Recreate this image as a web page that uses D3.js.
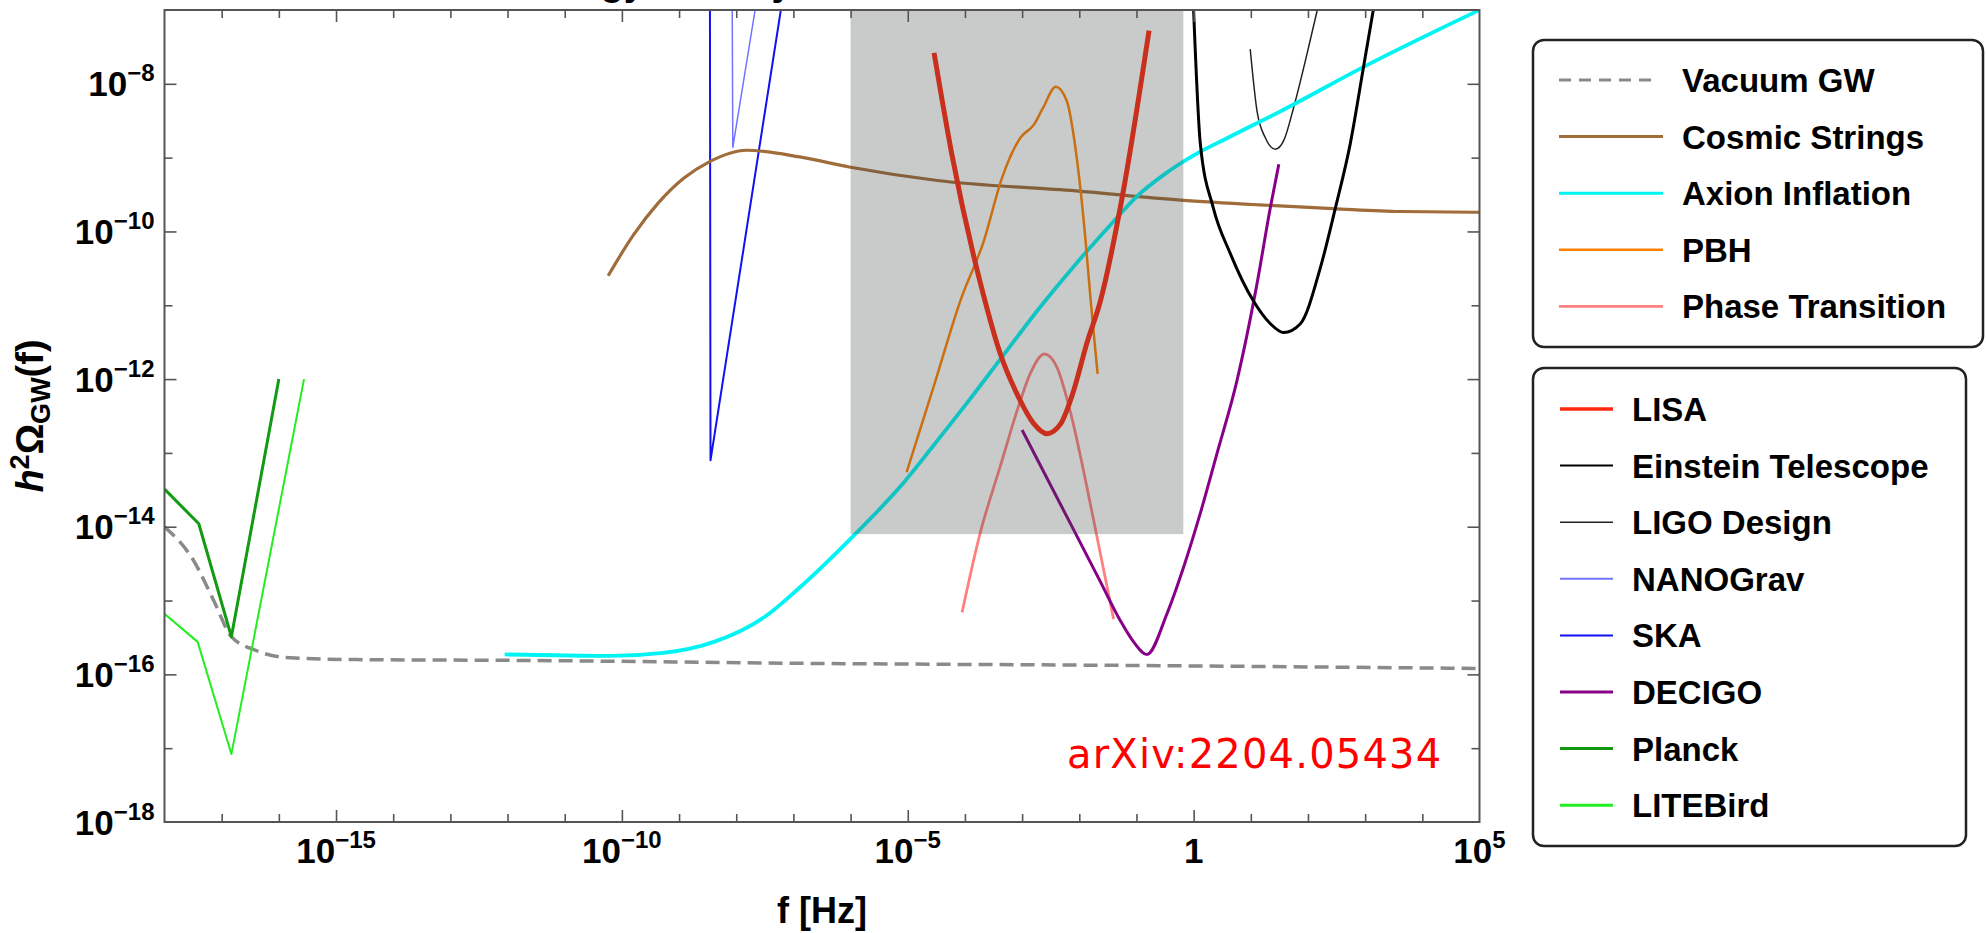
<!DOCTYPE html>
<html>
<head>
<meta charset="utf-8">
<script src="https://cdn.jsdelivr.net/npm/d3@7"></script>
<style>
  body { margin: 0; background: #fff; }
  svg { display: block; }
  text { font-family: "Liberation Sans", Arial, sans-serif; }
</style>
</head>
<body>
<script>
'use strict';

// every curve is a list of [log10 f/Hz, log10 h^2 Omega_GW]
const vacuumGW = [[-18, -14.0], [-17.49, -14.46], [-17.14, -15.0], [-16.83, -15.49], [-16.42, -15.67],
  [-15.89, -15.77], [-14.64, -15.8], [-11.96, -15.81], [-6.89, -15.85], [-1, -15.88], [5, -15.92]];
const cosmicStrings = [[-10.24, -10.6], [-9.8, -10.05], [-9.37, -9.62], [-8.92, -9.28], [-8.48, -9.06],
  [-7.82, -8.9], [-6.89, -8.99], [-6.0, -9.13], [-4.48, -9.31], [-2.06, -9.45], [-0.23, -9.575],
  [1.15, -9.64], [2.44, -9.69], [3.62, -9.73], [5.0, -9.74]];
const axionInflation = [[-12.05, -15.73], [-10.18, -15.75], [-9.28, -15.71], [-8.39, -15.56], [-7.5, -15.22],
  [-6.885, -14.82], [-5.92, -14.1], [-5.135, -13.46], [-4.55, -12.9], [-3.97, -12.33], [-3.38, -11.73],
  [-2.68, -11.02], [-2.06, -10.44], [-1.5, -9.95], [-1.0, -9.53], [-0.5, -9.22], [0.0, -8.97], [0.6, -8.73],
  [1.5, -8.38], [3.0, -7.76], [5.0, -7.0]];
const pbh = [[-5.02, -13.26], [-4.55, -12.11], [-4.08, -10.94], [-3.67, -10.13], [-3.35, -9.27],
  [-3.03, -8.73], [-2.79, -8.55], [-2.63, -8.32], [-2.41, -8.04], [-2.22, -8.23], [-2.06, -8.91],
  [-1.9, -10.04], [-1.8, -10.94], [-1.68, -11.93]];
const phaseTransition = [[-4.05, -15.16], [-3.735, -14.09], [-3.385, -13.19], [-3.03, -12.29], [-2.86, -11.93],
  [-2.61, -11.66], [-2.39, -11.84], [-2.16, -12.43], [-1.867, -13.46], [-1.63, -14.37], [-1.4, -15.25]];

const lisa = [[-4.54, -7.58], [-4.23, -8.95], [-3.68, -10.85], [-3.385, -11.65], [-3.09, -12.2],
  [-2.8, -12.6], [-2.567, -12.74], [-2.33, -12.61], [-2.1, -12.16], [-1.87, -11.52], [-1.63, -10.94],
  [-1.26, -9.58], [-0.78, -7.28]];
const einsteinTelescope = [[0.0, -7.01], [0.117, -8.81], [0.344, -9.68], [0.642, -10.3], [1.044, -10.94],
  [1.342, -11.25], [1.575, -11.37], [1.867, -11.25], [2.217, -10.49], [2.48, -9.68], [2.74, -8.81],
  [2.97, -7.78], [3.14, -7.01]];
const ligoDesign = [[0.99, -7.53], [1.109, -8.37], [1.254, -8.73], [1.43, -8.885], [1.575, -8.77],
  [1.75, -8.32], [1.954, -7.69], [2.16, -7.01]];
const nanoGrav = [[-8.07, -7.0], [-8.06, -8.86], [-7.67, -7.0]];
const ska = [[-8.46, -7.0], [-8.45, -13.1], [-7.22, -7.0]];
const decigo = [[-3.0, -12.69], [-2.1, -14.04], [-1.634, -14.74], [-1.284, -15.27], [-1.05, -15.56],
  [-0.817, -15.73], [-0.467, -15.18], [-0.176, -14.55], [0.116, -13.82], [0.408, -13.01], [0.758, -12.02],
  [1.108, -10.71], [1.342, -9.675], [1.49, -9.09]];
const planck = [[-18, -13.49], [-17.4, -13.96], [-16.83, -15.49], [-16.0, -12.0]];
const liteBird = [[-18, -15.18], [-17.42, -15.56], [-16.83, -17.08], [-15.56, -12.0]];

// shaded band: [log f min, log f max, log Omega min, log Omega max]
const shadedBand = [-6.0, -0.18, -14.1, -7];

// tick exponents
const xLabelExps = [-15, -10, -5, 0, 5];
const xMajorExps = [-15, -10, -5, 0];
const xMinorExps = [-17, -16, -14, -13, -12, -11, -9, -8, -7, -6, -4, -3, -2, -1, 1, 2, 3, 4];
const yLabelExps = [-8, -10, -12, -14, -16, -18];
const yMajorExps = [-8, -10, -12, -14, -16];
const yMinorExps = [-9, -11, -13, -15, -17];

const signalNames = ["Vacuum GW", "Cosmic Strings", "Axion Inflation", "PBH", "Phase Transition"];
const detectorNames = ["LISA", "Einstein Telescope", "LIGO Design", "NANOGrav", "SKA", "DECIGO", "Planck", "LITEBird"];

(function() {

  let svg = "";
  let x = "";
  let y = "";

  const plot = {left: 164.5, right: 1479.5, top: 10, bottom: 822};

  window.onload = function() {
    svg = d3.select('body')
      .append('svg')
      .attr('width', 1986)
      .attr('height', 933);

    x = d3.scaleLog().domain([1e-18, 1e5]).range([plot.left, plot.right]);
    y = d3.scaleLog().domain([1e-18, 1e-7]).range([plot.bottom, plot.top]);

    // curve styles, built from the arrays above
    let signals = [
      {data: vacuumGW, color: "#8a8a8a", width: 3.5, dash: "14,7", smooth: true},
      {data: cosmicStrings, color: "#a06c3a", width: 3.2, smooth: true},
      {data: axionInflation, color: "#00f4f4", width: 3.8, smooth: true},
      {data: pbh, color: "#ff8000", width: 2.5, smooth: true},
      {data: phaseTransition, color: "#ff8080", width: 2.8, smooth: true}
    ];
    let detectors = [
      {data: lisa, color: "#ff2810", width: 5, legendWidth: 3.5, smooth: true},
      {data: einsteinTelescope, color: "#000000", width: 3, legendWidth: 2, smooth: true},
      {data: ligoDesign, color: "#222222", width: 1.5, smooth: true},
      {data: nanoGrav, color: "#7373ff", width: 1.5, legendWidth: 2, smooth: false},
      {data: ska, color: "#1010f0", width: 2, smooth: false},
      {data: decigo, color: "#880088", width: 3, smooth: true},
      {data: planck, color: "#129a12", width: 3, smooth: false},
      {data: liteBird, color: "#22ee22", width: 2, legendWidth: 3, smooth: false}
    ];

    // title, cut off by the top edge as in the original image
    svg.append('text')
      .attr('x', 516)
      .attr('y', -5)
      .style('font-size', '38px')
      .style('font-weight', 'bold')
      .text("Energy Density");

    svg.append('clipPath')
      .attr('id', 'plotClip')
      .append('rect')
      .attr('x', plot.left)
      .attr('y', plot.top)
      .attr('width', plot.right - plot.left)
      .attr('height', plot.bottom - plot.top);

    let curves = svg.append('g').attr('clip-path', 'url(#plotClip)');

    let drawOrder = [signals[0], detectors[2], detectors[3], detectors[4], detectors[6], detectors[7],
      signals[1], signals[2], signals[3], signals[4], detectors[5], detectors[1], detectors[0]];
    drawOrder.forEach((s) => drawCurve(curves, s));

    // translucent band on top of the curves
    curves.append('rect')
      .attr('x', x(10 ** shadedBand[0]))
      .attr('y', y(10 ** shadedBand[3]))
      .attr('width', x(10 ** shadedBand[1]) - x(10 ** shadedBand[0]))
      .attr('height', y(10 ** shadedBand[2]) - y(10 ** shadedBand[3]))
      .attr('fill', 'rgb(60,68,64)')
      .attr('opacity', 0.28);

    drawAxes();

    svg.append('text')
      .attr('x', 1067)
      .attr('y', 768)
      .attr('fill', '#ff0000')
      .style('font-family', '"DejaVu Sans", sans-serif')
      .style('font-size', '40px')
      .style('letter-spacing', '1.2px')
      .text("arXiv:2204.05434");

    drawLegend({x: 1533, y: 40, w: 450, h: 307}, signalNames, signals, 80, 1559, 1663, 1682);
    drawLegend({x: 1533, y: 368, w: 433, h: 478}, detectorNames, detectors, 409, 1560, 1613, 1632);
  }

  function drawCurve(g, s) {
    let line = d3.line()
      .x((d) => x(10 ** d[0]))
      .y((d) => y(10 ** d[1]))
      .curve(s.smooth ? d3.curveMonotoneX : d3.curveLinear);

    g.append('path')
      .datum(s.data)
      .attr('d', line)
      .attr('fill', 'none')
      .attr('stroke', s.color)
      .attr('stroke-width', s.width)
      .attr('stroke-dasharray', s.dash || null)
      .attr('stroke-linejoin', 'round');
  }

  // inward ticks on all four sides, labels as powers of ten
  function drawAxes() {
    let pow = (e) => e.map((v) => 10 ** v);
    let sides = [
      {axis: d3.axisBottom(x), at: 'translate(0,' + plot.bottom + ')', major: xMajorExps, minor: xMinorExps},
      {axis: d3.axisTop(x), at: 'translate(0,' + plot.top + ')', major: xMajorExps, minor: xMinorExps},
      {axis: d3.axisLeft(y), at: 'translate(' + plot.left + ',0)', major: yMajorExps, minor: yMinorExps},
      {axis: d3.axisRight(y), at: 'translate(' + plot.right + ',0)', major: yMajorExps, minor: yMinorExps}
    ];
    sides.forEach((s) => {
      [[s.major, -12], [s.minor, -8]].forEach((set) => {
        svg.append('g')
          .attr('transform', s.at)
          .call(s.axis.tickValues(pow(set[0])).tickSize(set[1]).tickFormat(''))
          .call((g) => g.select('.domain').remove())
          .selectAll('line')
            .attr('stroke', '#555')
            .attr('stroke-width', 1.6);
      });
    });

    svg.append('rect')
      .attr('x', plot.left)
      .attr('y', plot.top)
      .attr('width', plot.right - plot.left)
      .attr('height', plot.bottom - plot.top)
      .attr('fill', 'none')
      .attr('stroke', '#555')
      .attr('stroke-width', 2);

    xLabelExps.forEach((e) => powerLabel(x(10 ** e), plot.bottom + 41, e, 'middle'));
    yLabelExps.forEach((e) => powerLabel(plot.left - 10, y(10 ** e) + 12.5, e, 'end'));

    svg.append('text')
      .attr('x', (plot.left + plot.right) / 2)
      .attr('y', 923)
      .attr('text-anchor', 'middle')
      .style('font-size', '36px')
      .style('font-weight', 'bold')
      .text("f [Hz]");

    let yTitle = svg.append('text')
      .attr('transform', 'translate(43,' + (plot.top + plot.bottom) / 2 + ')rotate(-90)')
      .attr('text-anchor', 'middle')
      .style('font-weight', 'bold')
      .style('font-size', '38px');
    yTitle.append('tspan').style('font-style', 'italic').text("h");
    yTitle.append('tspan').attr('dy', -14).style('font-size', '27px').text("2");
    yTitle.append('tspan').attr('dy', 14).text("\u03A9");
    yTitle.append('tspan').attr('dy', 7).style('font-size', '27px').text("GW");
    yTitle.append('tspan').attr('dy', -7).text("(f)");
  }

  function powerLabel(px, py, e, anchor) {
    let t = svg.append('text')
      .attr('x', px)
      .attr('y', py)
      .attr('text-anchor', anchor)
      .style('font-weight', 'bold');
    if (e === 0) {
      t.append('tspan').style('font-size', '35px').text("1");
      return;
    }
    t.append('tspan').style('font-size', '35px').text("10");
    t.append('tspan')
      .attr('dy', -15)
      .style('font-size', '24px')
      .text(e < 0 ? "\u2212" + (-e) : String(e));
  }

  function drawLegend(box, names, styles, firstRow, x1, x2, textX) {
    let g = svg.append('g');
    g.append('rect')
      .attr('x', box.x)
      .attr('y', box.y)
      .attr('width', box.w)
      .attr('height', box.h)
      .attr('rx', 11)
      .attr('fill', '#fff')
      .attr('stroke', '#222')
      .attr('stroke-width', 2.5);

    names.forEach((name, i) => {
      let s = styles[i];
      let ry = firstRow + i * 56.6;
      g.append('line')
        .attr('x1', x1)
        .attr('x2', s.dash ? x2 - 5 : x2)
        .attr('y1', ry)
        .attr('y2', ry)
        .attr('stroke', s.color)
        .attr('stroke-width', s.legendWidth || Math.min(s.width, 3))
        .attr('stroke-dasharray', s.dash ? "12,8" : null);
      g.append('text')
        .attr('x', textX)
        .attr('y', ry + 12)
        .style('font-size', '33px')
        .style('font-weight', 'bold')
        .text(name);
    });
  }
})();
</script>
</body>
</html>
